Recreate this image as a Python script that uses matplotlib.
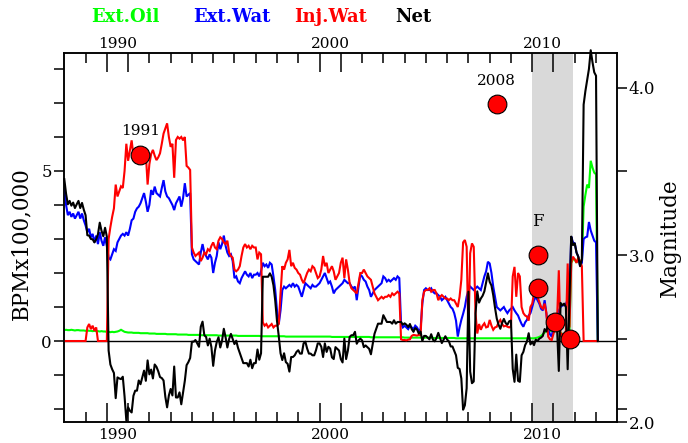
import numpy as np
import matplotlib
matplotlib.use("Agg")
import matplotlib.pyplot as plt
from matplotlib.ticker import FixedLocator, NullFormatter, FixedFormatter
from matplotlib.transforms import blended_transform_factory

plt.rcParams['font.family'] = ['DejaVu Serif']

# Monthly rates (BPM x 100,000), January 1988 onward, one row per year
FIRST_YEAR = 1988

ext_oil = [
    0.32, 0.33, 0.32, 0.32, 0.33, 0.32, 0.31, 0.32, 0.32, 0.31, 0.31, 0.31,  # 1988
    0.30, 0.31, 0.30, 0.30, 0.29, 0.30, 0.29, 0.29, 0.28, 0.29, 0.28, 0.28,  # 1989
    0.27, 0.27, 0.26, 0.27, 0.26, 0.27, 0.28, 0.30, 0.33, 0.30, 0.27, 0.26,  # 1990
    0.25, 0.25, 0.25, 0.24, 0.24, 0.24, 0.24, 0.23, 0.23, 0.23, 0.23, 0.23,  # 1991
    0.22, 0.22, 0.22, 0.22, 0.21, 0.21, 0.21, 0.21, 0.21, 0.21, 0.20, 0.20,  # 1992
    0.20, 0.20, 0.20, 0.20, 0.19, 0.19, 0.19, 0.19, 0.19, 0.19, 0.18, 0.18,  # 1993
    0.18, 0.18, 0.18, 0.18, 0.18, 0.17, 0.17, 0.17, 0.17, 0.17, 0.17, 0.17,  # 1994
    0.17, 0.17, 0.17, 0.16, 0.16, 0.16, 0.16, 0.16, 0.16, 0.16, 0.16, 0.16,  # 1995
    0.16, 0.16, 0.15, 0.15, 0.15, 0.15, 0.15, 0.15, 0.15, 0.15, 0.15, 0.15,  # 1996
    0.15, 0.15, 0.15, 0.14, 0.14, 0.14, 0.14, 0.14, 0.14, 0.14, 0.14, 0.14,  # 1997
    0.14, 0.14, 0.14, 0.14, 0.14, 0.13, 0.13, 0.13, 0.13, 0.13, 0.13, 0.13,  # 1998
    0.13, 0.13, 0.13, 0.13, 0.13, 0.13, 0.13, 0.13, 0.13, 0.13, 0.13, 0.13,  # 1999
    0.13, 0.13, 0.13, 0.13, 0.13, 0.13, 0.13, 0.12, 0.12, 0.12, 0.12, 0.12,  # 2000
    0.12, 0.12, 0.12, 0.12, 0.12, 0.12, 0.12, 0.12, 0.12, 0.12, 0.12, 0.12,  # 2001
    0.12, 0.12, 0.12, 0.12, 0.12, 0.11, 0.11, 0.11, 0.11, 0.11, 0.11, 0.11,  # 2002
    0.11, 0.11, 0.11, 0.11, 0.11, 0.11, 0.11, 0.11, 0.11, 0.11, 0.11, 0.11,  # 2003
    0.10, 0.10, 0.10, 0.10, 0.10, 0.10, 0.10, 0.10, 0.10, 0.10, 0.10, 0.10,  # 2004
    0.10, 0.10, 0.10, 0.10, 0.09, 0.09, 0.09, 0.09, 0.09, 0.09, 0.09, 0.09,  # 2005
    0.09, 0.09, 0.09, 0.09, 0.09, 0.08, 0.08, 0.08, 0.08, 0.08, 0.08, 0.08,  # 2006
    0.08, 0.08, 0.08, 0.08, 0.08, 0.08, 0.08, 0.08, 0.08, 0.08, 0.08, 0.08,  # 2007
    0.08, 0.08, 0.08, 0.08, 0.08, 0.08, 0.08, 0.08, 0.08, 0.08, 0.08, 0.08,  # 2008
    0.08, 0.08, 0.08, 0.08, 0.08, 0.08, 0.08, 0.08, 0.08, 0.08, 0.08, 0.08,  # 2009
    0.08, 0.08, 0.09, 0.10, 0.12, 0.15, 0.20, 0.25, 0.30, 0.35, 0.30, 0.30,  # 2010
    0.30, 0.35, 0.30, 0.30, 0.25, 0.20, 0.20, 0.20, 0.25, 0.30, 2.30, 2.40,  # 2011
    2.40, 2.30, 2.45, 2.35, 2.30, 3.95, 4.30, 4.60, 4.50, 5.30, 5.10, 4.95,  # 2012
    4.90, 0.00,                                                              # 2013
]

ext_wat = [
    4.44, 4.00, 3.70, 3.80, 3.65, 3.75, 3.60, 3.70, 3.80, 3.60, 3.75, 3.55,  # 1988
    3.40, 3.20, 3.30, 3.05, 3.15, 2.90, 3.10, 2.85, 3.20, 2.95, 2.80, 3.05,  # 1989
    2.80, 2.45, 2.40, 2.55, 2.70, 2.65, 2.90, 3.00, 3.10, 3.15, 3.10, 3.20,  # 1990
    3.10, 3.30, 3.55, 3.60, 3.80, 3.90, 3.95, 4.05, 4.20, 4.35, 4.10, 3.80,  # 1991
    4.00, 4.44, 4.30, 4.54, 4.35, 4.30, 4.25, 4.50, 4.73, 4.40, 4.25, 4.20,  # 1992
    4.10, 4.00, 3.85, 4.05, 4.15, 4.25, 3.95, 4.20, 4.64, 4.25, 4.30, 4.35,  # 1993
    2.55, 2.40, 2.35, 2.30, 2.25, 2.60, 2.85, 2.60, 2.50, 2.40, 2.55, 2.45,  # 1994
    2.00, 2.30, 2.50, 2.90, 2.70, 2.85, 3.10, 2.80, 2.60, 2.50, 2.55, 2.35,  # 1995
    1.85, 1.90, 1.75, 1.70, 1.85, 1.95, 2.05, 1.95, 1.90, 2.00, 1.85, 1.95,  # 1996
    1.95, 2.00, 1.90, 2.05, 2.30, 2.20, 2.25, 2.15, 2.30, 2.25, 1.90, 1.50,  # 1997
    0.90, 0.50, 0.90, 1.50, 1.60, 1.55, 1.60, 1.65, 1.60, 1.70, 1.60, 1.65,  # 1998
    1.60, 1.45, 1.30, 1.50, 1.70, 1.65, 1.60, 1.55, 1.65, 1.60, 1.60, 1.65,  # 1999
    1.70, 1.80, 1.90, 2.00, 1.85, 1.70, 1.75, 1.60, 1.40, 1.50, 1.55, 1.60,  # 2000
    1.65, 1.70, 1.80, 1.75, 1.70, 1.70, 1.60, 1.55, 1.60, 1.20, 1.60, 1.95,  # 2001
    1.90, 1.80, 1.75, 1.60, 1.50, 1.30, 1.40, 1.50, 1.55, 1.60, 1.65, 1.70,  # 2002
    1.90, 1.85, 1.75, 1.80, 1.75, 1.80, 1.85, 1.80, 1.90, 1.85, 0.50, 0.40,  # 2003
    0.45, 0.40, 0.35, 0.45, 0.40, 0.35, 0.45, 0.40, 0.30, 0.35, 1.10, 1.50,  # 2004
    1.55, 1.50, 1.50, 1.55, 1.45, 1.40, 1.40, 1.35, 1.30, 1.20, 1.25, 1.30,  # 2005
    1.20, 1.10, 1.00, 0.95, 0.82, 0.60, 0.13, 0.40, 0.62, 0.80, 1.00, 1.30,  # 2006
    1.50, 1.60, 1.55, 1.50, 1.55, 1.60, 1.55, 1.50, 1.70, 1.90, 2.05, 2.33,  # 2007
    2.28, 2.00, 1.60, 1.30, 1.00, 0.95, 0.90, 0.95, 1.00, 0.90, 0.82, 0.90,  # 2008
    0.95, 1.00, 0.90, 0.82, 0.75, 0.62, 0.50, 0.42, 0.55, 0.62, 0.75, 0.82,  # 2009
    1.00, 1.20, 1.30, 1.20, 1.10, 0.95, 0.90, 1.20, 0.80, 0.33, 0.20, 0.13,  # 2010
    0.42, 0.55, 0.72, 0.90, 1.00, 1.05, 1.05, 1.10, 1.20, 1.30, 3.07, 2.90,  # 2011
    2.87, 2.60, 2.48, 2.20, 2.30, 3.00, 3.05, 3.07, 3.50, 3.25, 3.10, 2.95,  # 2012
    2.90, 0.00,                                                              # 2013
]

inj_wat = [
    0.00, 0.00, 0.00, 0.00, 0.00, 0.00, 0.00, 0.00, 0.00, 0.00, 0.00, 0.00,  # 1988
    0.00, 0.40, 0.50, 0.35, 0.45, 0.30, 0.40, 0.00, 0.00, 0.00, 0.00, 0.00,  # 1989
    0.00, 3.00, 3.35, 3.65, 3.90, 4.60, 4.25, 4.40, 4.55, 4.50, 5.00, 5.80,  # 1990
    5.30, 5.60, 5.90, 5.45, 5.50, 5.60, 5.35, 5.55, 5.50, 5.45, 5.50, 4.60,  # 1991
    5.20, 5.50, 5.62, 5.45, 5.32, 5.40, 5.52, 5.80, 6.10, 6.25, 6.40, 6.00,  # 1992
    5.71, 5.80, 4.80, 5.91, 6.00, 5.95, 6.00, 5.90, 6.00, 5.15, 5.10, 5.03,  # 1993
    2.75, 2.60, 2.50, 2.55, 2.60, 2.35, 2.45, 2.60, 2.55, 2.70, 2.65, 2.80,  # 1994
    2.90, 2.75, 2.70, 2.95, 3.05, 3.00, 2.90, 2.85, 2.95, 2.60, 2.50, 2.45,  # 1995
    2.10, 2.05, 2.10, 2.20, 2.50, 2.75, 2.85, 2.75, 2.80, 2.70, 2.80, 2.75,  # 1996
    2.75, 2.40, 2.60, 2.55, 0.55, 0.45, 0.50, 0.40, 0.45, 0.50, 0.40, 0.45,  # 1997
    0.45, 0.50, 1.40, 2.20, 2.10, 2.30, 2.40, 2.68, 2.20, 2.30, 2.15, 2.10,  # 1998
    2.00, 1.95, 1.80, 1.70, 1.85, 2.00, 2.10, 2.05, 2.20, 2.15, 2.00, 1.85,  # 1999
    1.90, 2.10, 2.50, 2.20, 2.30, 2.00, 2.10, 2.20, 2.05, 1.80, 1.90, 2.00,  # 2000
    2.30, 2.45, 1.85, 2.40, 2.10, 1.70, 1.55, 1.50, 1.45, 1.40, 1.70, 2.00,  # 2001
    2.00, 2.10, 2.00, 1.90, 1.85, 1.80, 1.60, 1.40, 1.30, 1.20, 1.25, 1.30,  # 2002
    1.25, 1.30, 1.30, 1.35, 1.30, 1.40, 1.35, 1.40, 1.45, 1.40, 0.05, 0.03,  # 2003
    0.03, 0.02, 0.04, 0.05, 0.15, 0.18, 0.17, 0.16, 0.18, 0.17, 1.20, 1.45,  # 2004
    1.50, 1.50, 1.55, 1.45, 1.50, 1.50, 1.40, 1.20, 1.30, 1.35, 1.30, 1.25,  # 2005
    1.25, 1.20, 1.25, 1.20, 1.20, 1.10, 1.00, 1.30, 1.80, 2.90, 2.97, 2.77,  # 2006
    0.13, 2.58, 2.87, 2.77, 0.82, 0.22, 0.50, 0.33, 0.45, 0.52, 0.40, 0.42,  # 2007
    0.62, 0.45, 0.33, 0.40, 0.42, 0.55, 0.62, 0.50, 0.43, 0.45, 0.42, 0.40,  # 2008
    0.43, 1.90, 2.18, 1.30, 2.00, 1.90, 1.00, 0.82, 0.75, 0.72, 0.60, 1.00,  # 2009
    1.10, 1.40, 1.35, 1.30, 1.15, 1.00, 0.95, 1.10, 0.82, 0.13, 0.05, 0.03,  # 2010
    0.22, 0.40, 0.62, 2.08, 0.13, 0.20, 0.15, 0.30, 2.28, 0.40, 2.30, 2.48,  # 2011
    2.40, 2.30, 2.45, 2.35, 2.20, 0.00, 0.00, 0.00, 0.00, 0.00, 0.00, 0.00,  # 2012
    0.00, 0.00,                                                              # 2013
]

# Earthquakes: decimal year, magnitude, annotation
quake_years = [1991.57, 2008.33, 2010.25, 2010.25, 2011.08, 2011.79]
quake_mags = [3.60, 3.90, 3.00, 2.80, 2.60, 2.50]
quake_labels = ["1991", "2008", "F", "", "", ""]
quake_label_offsets = [17, 17, 24, 0, 0, 0]   # points above the marker

shade_span = (2010.0, 2011.9)
decade_labels = ["1990", "2000", "2010"]
long_tick_years = [1990, 1991, 2000, 2001, 2010, 2011]

series_names = ["Ext.Oil", "Ext.Wat", "Inj.Wat", "Net"]
series_colors = ["#00ff00", "#0000ff", "#ff0000", "#000000"]

# ---------------------------------------------------------------------------
oil = np.array(ext_oil)
wat = np.array(ext_wat)
inj = np.array(inj_wat)
net = oil + wat - inj
t = FIRST_YEAR + np.arange(len(oil)) / 12.0

W, H = 688, 443
fig = plt.figure(figsize=(W / 100, H / 100), dpi=100)
L, R, T, B = 64.3, 617.3, 53.3, 422.3
ax = fig.add_axes([L / W, 1 - B / H, (R - L) / W, (B - T) / H])

ax.set_xlim(1988, 2014)
ax.set_ylim(-2.39, 8.46)

ax.axvspan(*shade_span, color="#d9d9d9", lw=0, zorder=0)
ax.axhline(0, color="black", lw=1.0, zorder=1.5)

for y, c, z in [(oil, series_colors[0], 2), (wat, series_colors[1], 3),
                (inj, series_colors[2], 4)]:
    ax.plot(t, y, color=c, lw=1.5, zorder=z, solid_joinstyle="miter")
ax.plot(t, net, color=series_colors[3], lw=1.5, zorder=5, clip_on=False)

for s in ax.spines.values():
    s.set_linewidth(1.1)

# x ticks: long ticks bracket the decade labels, short ticks every year
short_years = [y for y in range(1989, 2014) if y not in long_tick_years]
ax.xaxis.set_major_locator(FixedLocator(long_tick_years))
ax.xaxis.set_minor_locator(FixedLocator(short_years))
ax.xaxis.set_major_formatter(NullFormatter())
ax.tick_params(axis="x", which="major", direction="in", length=13.5,
               width=1.1, top=True, bottom=True)
ax.tick_params(axis="x", which="minor", direction="in", length=7,
               width=1.1, top=True, bottom=True)

# left y ticks
ax.yaxis.set_major_locator(FixedLocator([0, 5]))
ax.yaxis.set_minor_locator(FixedLocator([-2, -1, 1, 2, 3, 4, 6, 7, 8]))
ax.yaxis.set_major_formatter(FixedFormatter(["0", "5"]))
ax.tick_params(axis="y", which="both", direction="out", length=7, width=1.1,
               labelsize=12, pad=2, right=False)

# year labels centred between the long ticks
trans = blended_transform_factory(ax.transData, fig.transFigure)
for lab in decade_labels:
    xc = int(lab) + 0.5
    ax.text(xc, 1 - 44 / H, lab, transform=trans, ha="center", va="center",
            fontsize=11)
    ax.text(xc, 1 - 435 / H, lab, transform=trans, ha="center", va="center",
            fontsize=11)

# magnitude axis
ax2 = ax.twinx()
ax2.set_ylim(2.0, 4.206)
ax2.yaxis.set_major_locator(FixedLocator([2.0, 3.0, 4.0]))
ax2.yaxis.set_major_formatter(FixedFormatter(["2.0", "3.0", "4.0"]))
ax2.yaxis.set_minor_locator(FixedLocator([2.5, 3.5]))
ax2.tick_params(axis="y", which="both", direction="out", length=7, width=1.1,
                labelsize=12, pad=1)
for s in ax2.spines.values():
    s.set_linewidth(1.1)

ax3 = ax.twinx()
ax3.set_ylim(ax.get_ylim())
ax3.yaxis.set_major_locator(FixedLocator([-2, -1]))
ax3.yaxis.set_major_formatter(NullFormatter())
ax3.tick_params(axis="y", direction="out", length=7, width=1.1)
for s in ax3.spines.values():
    s.set_visible(False)

ax2.scatter(quake_years, quake_mags, s=13.5 ** 2, facecolor="#ff0000",
            edgecolor="black", linewidth=0.8, zorder=10, clip_on=False)
for x, m, lab, off in zip(quake_years, quake_mags, quake_labels,
                          quake_label_offsets):
    if lab:
        ax2.annotate(lab, (x, m), xytext=(0, off), textcoords="offset points",
                     ha="center", va="center",
                     fontsize=12 if lab == "F" else 11)

# axis titles
fig.text(21 / W, 1 - 244 / H, "BPMx100,000", rotation=90, ha="center",
         va="center", fontsize=15.5)
fig.text(670 / W, 1 - 238 / H, "Magnitude", rotation=90, ha="center",
         va="center", fontsize=15.5)

# colour-keyed series names across the top
for name, col, x0 in zip(series_names, series_colors, [91.5, 193, 294, 395]):
    fig.text(x0 / W, 1 - 17 / H, name, color=col, fontsize=13,
             fontweight="bold", ha="left", va="center")

fig.savefig("out.png", dpi=100)
